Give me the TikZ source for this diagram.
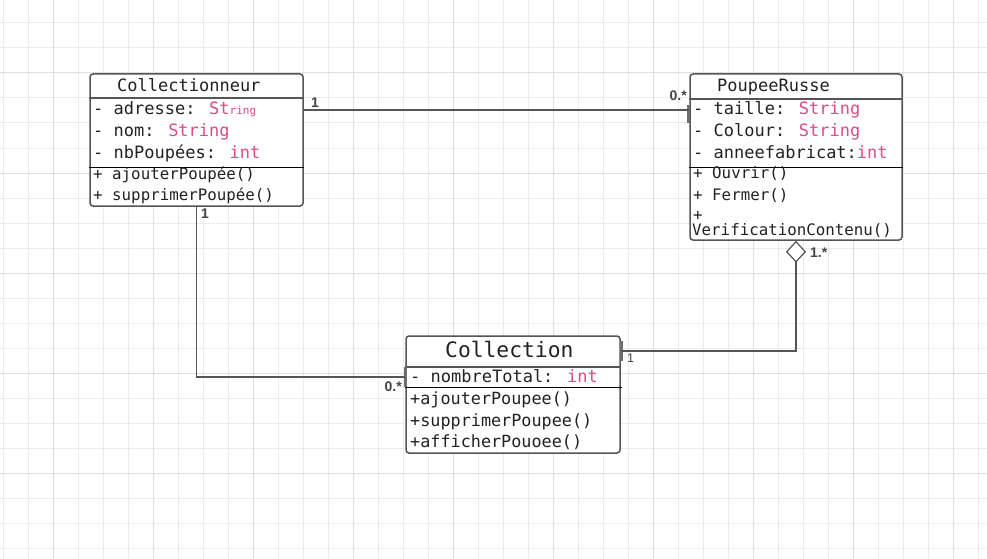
\documentclass[tikz,border=0pt]{standalone}
\usepackage{fontspec}
\usetikzlibrary{arrows.meta}
\newfontfamily\umlmono{DejaVu Sans Mono}
\newfontfamily\umlsans{Liberation Sans}
\definecolor{gridminor}{HTML}{EBEBEB}
\definecolor{gridmajor}{HTML}{DEDEDE}
\definecolor{boxline}{HTML}{555555}
\definecolor{typepink}{HTML}{E2498A}
\definecolor{umltext}{HTML}{222222}
\definecolor{multgray}{HTML}{444444}
\newcommand\ty[1]{\textcolor{typepink}{#1}}
\newcommand\umlsize[1]{\fontsize{#1}{#1}\selectfont}

\tikzset{
  classbox/.style={draw=boxline, line width=1.5pt, rounded corners=3pt, fill=white, inner sep=0pt},
  headline/.style={draw=boxline, line width=1.5pt},
  opline/.style={draw=black, line width=1pt},
  member/.style={anchor=west, inner sep=0pt, text=umltext, text height=0.75em, text depth=0.2em, yshift=-4pt},
  attr/.style={member, font=\umlmono\umlsize{17}},
  oper/.style={member, font=\umlmono\umlsize{15.8}},
  title/.style={member, font=\umlmono\umlsize{17}},
  bigtitle/.style={member, font=\umlmono\umlsize{21.3}},
  conn/.style={draw=boxline, line width=1.2pt},
  mult/.style={inner sep=0pt, text=multgray, font=\umlsans\bfseries\umlsize{14}},
  smallmult/.style={inner sep=0pt, text=multgray, font=\umlsans\umlsize{12.5}},
  edgebar/.style={draw=boxline!85, line width=3pt},
}

\begin{document}
\begin{tikzpicture}[x=1pt, y=-1pt]
  \useasboundingbox (0,0) rectangle (987,559);
  \fill[white] (0,0) rectangle (987,559);

  % background grid
  \foreach \x in {3,28,...,978} \draw[gridminor, line width=1pt] (\x,0) -- (\x,559);
  \foreach \y in {23,48,...,548} \draw[gridminor, line width=1pt] (0,\y) -- (987,\y);
  \foreach \x in {53,153,...,953} \draw[gridmajor, line width=1pt] (\x,0) -- (\x,559);
  \foreach \y in {73,173,...,473} \draw[gridmajor, line width=1pt] (0,\y) -- (987,\y);

  % class Collectionneur
  \node[classbox, minimum width=213, minimum height=132] (cr) at (196.5,140) {};
  \draw[headline] (cr.west |- 0,98) -- (cr.east |- 0,98);
  \draw[opline] (cr.west |- 0,167) -- (cr.east |- 0,167);
  \node[title] (cr-name) at (117,85) {Collectionneur};
  \node[attr] (cr-a1) at (93,108) {- adresse: \ty{St{\umlsize{11}ring}}};
  \node[attr] (cr-a2) at (93,130) {- nom: \ty{String}};
  \node[attr] (cr-a3) at (93,152) {- nbPoupées: \ty{int}};
  \node[oper] (cr-o1) at (93,173) {+ ajouterPoupée()};
  \node[oper] (cr-o2) at (93,194) {+ supprimerPoupée()};

  % class PoupeeRusse
  \node[classbox, minimum width=212, minimum height=166] (pr) at (796,157) {};
  \draw[headline] (pr.west |- 0,99) -- (pr.east |- 0,99);
  \draw[opline] (pr.west |- 0,167) -- (pr.east |- 0,167);
  \node[title] (pr-name) at (717,85) {PoupeeRusse};
  \node[attr] (pr-a1) at (693,108) {- taille: \ty{String}};
  \node[attr] (pr-a2) at (693,130) {- Colour: \ty{String}};
  \node[attr] (pr-a3) at (693,152) {- anneefabricat:\ty{int}};
  \node[oper] (pr-o1) at (693,172) {+ Ouvrir()};
  \node[oper] (pr-o2) at (693,194) {+ Fermer()};
  \node[oper] (pr-o3) at (693,214) {+};
  \node[oper] (pr-o4) at (692,229) {VerificationContenu()};

  % class Collection
  \node[classbox, minimum width=214, minimum height=117] (col) at (513,394.5) {};
  \draw[headline] (col.west |- 0,367) -- (col.east |- 0,367);
  \draw[opline] (col.west |- 0,387) -- (622,387);
  \node[bigtitle] (col-name) at (445,351) {Collection};
  \node[attr] (col-a1) at (410,376) {- nombreTotal: \ty{int}};
  \node[oper, font=\umlmono\umlsize{16.8}] (col-o1) at (410,398) {+ajouterPoupee()};
  \node[oper, font=\umlmono\umlsize{16.8}] (col-o2) at (410,420) {+supprimerPoupee()};
  \node[oper, font=\umlmono\umlsize{16.8}] (col-o3) at (410,441) {+afficherPouoee()};

  % connection handles on the box edges
  \draw[edgebar] (688,105) -- (688,123);
  \draw[edgebar] (405,367) -- (405,387);
  \draw[edgebar] (621,341) -- (621,361);

  % associations
  \draw[conn] (cr.east |- 0,110) -- (pr.west |- 0,110);
  \draw[conn] (cr.south) |- (col.west |- 0,377);
  \draw[conn, {Diamond[open, fill=white, length=22pt, width=20pt]}-] (pr.south) |- (col.east |- 0,351);

  % multiplicities
  \node[mult, anchor=west] (m1) at (311,103) {1};
  \node[mult, anchor=east] (m2) at (687,96) {0.*};
  \node[mult, anchor=west] (m3) at (201,214) {1};
  \node[mult, anchor=east] (m4) at (402,387) {0.*};
  \node[mult, anchor=west] (m5) at (810,253) {1.*};
  \node[smallmult, anchor=west] (m6) at (627,358) {1};
\end{tikzpicture}
\end{document}
